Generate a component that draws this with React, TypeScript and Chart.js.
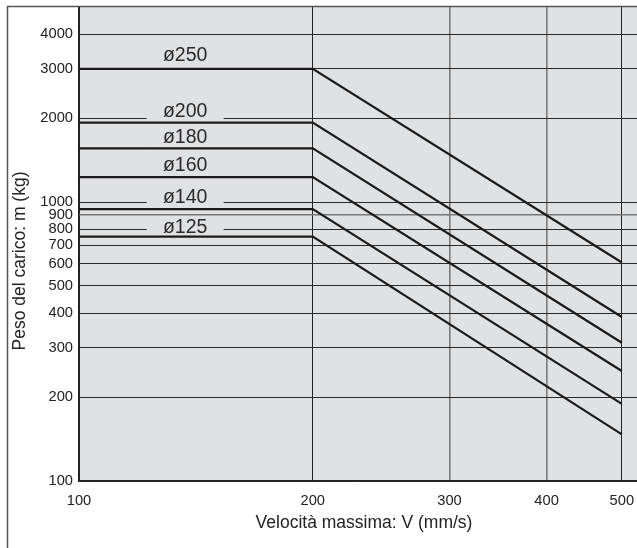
import React, { useEffect, useRef } from 'react';
import { Chart, registerables } from 'chart.js';
Chart.register(...registerables);

const velocities = [100, 200, 500];
const bores = ['ø250', 'ø200', 'ø180', 'ø160', 'ø140', 'ø125'];
const load250 = [3000, 3000, 607];
const load200 = [1925, 1925, 387];
const load180 = [1556, 1556, 313];
const load160 = [1228, 1228, 248];
const load140 = [943, 943, 189];
const load125 = [752, 752, 147];
const labelX = 137;
const labelY = [3370, 2130, 1718, 1359, 1046, 817];
const xTicks = [100, 200, 300, 400, 500];
const yTicks = [100, 200, 300, 400, 500, 600, 700, 800, 900, 1000, 2000, 3000, 4000];
const xTitle = 'Velocità massima: V (mm/s)';
const yTitle = 'Peso del carico: m (kg)';

const FONT = "'Liberation Sans', Arial, Helvetica, sans-serif";
const PLOT_BG = '#e0e1e3';

export default function App() {
  const ref = useRef<HTMLCanvasElement>(null);
  useEffect(() => {
    if (!ref.current) return;
    const series = [load250, load200, load180, load160, load140, load125];
    const decor = {
      id: 'decor',
      beforeDraw(chart: any) {
        const { ctx, chartArea: a } = chart;
        ctx.save();
        ctx.fillStyle = PLOT_BG;
        ctx.fillRect(a.left, a.top, a.right - a.left, a.bottom - a.top);
        ctx.restore();
      },
      beforeDatasetsDraw(chart: any) {
        const { ctx } = chart;
        const xs = chart.scales.x;
        const ys = chart.scales.y;
        ctx.save();
        ctx.font = `19.5px ${FONT}`;
        ctx.textAlign = 'center';
        ctx.textBaseline = 'middle';
        bores.forEach((b, i) => {
          const px = xs.getPixelForValue(labelX);
          const py = ys.getPixelForValue(labelY[i]);
          ctx.fillStyle = PLOT_BG;
          ctx.fillRect(px - 38.5, py - 9, 77, 18);
          ctx.fillStyle = '#2a2a2a';
          ctx.fillText(b, px, py + 1);
        });
        ctx.restore();
      },
      afterDraw(chart: any) {
        const { ctx } = chart;
        ctx.save();
        ctx.strokeStyle = '#555';
        ctx.lineWidth = 1.5;
        ctx.beginPath();
        ctx.moveTo(7.5, chart.height);
        ctx.lineTo(7.5, 6.5);
        ctx.lineTo(chart.width, 6.5);
        ctx.stroke();
        ctx.fillStyle = '#222';
        ctx.font = `17.5px ${FONT}`;
        ctx.textAlign = 'center';
        ctx.textBaseline = 'middle';
        ctx.fillText(xTitle, 364, 523);
        ctx.translate(20, 261);
        ctx.rotate(-Math.PI / 2);
        ctx.fillText(yTitle, 0, 0);
        ctx.restore();
      },
    };
    const chart = new Chart(ref.current, {
      type: 'line',
      data: {
        datasets: series.map((s, i) => ({
          label: bores[i],
          data: s.map((v, j) => ({ x: velocities[j], y: v })),
          borderColor: '#1a1a1a',
          borderWidth: 2.2,
          pointRadius: 0,
          fill: false,
          tension: 0,
        })),
      },
      options: {
        animation: false,
        responsive: false,
        devicePixelRatio: 1,
        layout: { padding: { top: 7, left: 0, right: 0, bottom: 0 } },
        plugins: { legend: { display: false }, tooltip: { enabled: false }, title: { display: false } },
        scales: {
          x: {
            type: 'logarithmic',
            min: 100,
            max: 523,
            afterBuildTicks: (s: any) => { s.ticks = xTicks.map((v) => ({ value: v })); },
            afterFit: (s: any) => { s.height = 67; s.paddingLeft = 0; s.paddingRight = 0; },
            ticks: {
              callback: (v: any) => String(v),
              autoSkip: false,
              maxRotation: 0,
              padding: 11,
              color: '#222',
              font: { family: FONT, size: 14.7 },
            },
            grid: {
              drawTicks: false,
              color: (c: any) => (c.tick && (c.tick.value === 300 || c.tick.value === 400) ? '#7a7a7a' : '#222'),
              lineWidth: (c: any) => (c.tick && (c.tick.value === 300 || c.tick.value === 400) ? 1.6 : 1),
            },
            border: { display: true, color: '#222', width: 1.2 },
          },
          y: {
            type: 'logarithmic',
            min: 100,
            max: 5000,
            afterBuildTicks: (s: any) => { s.ticks = yTicks.map((v) => ({ value: v })); },
            afterFit: (s: any) => { s.width = 79; s.paddingTop = 0; s.paddingBottom = 0; },
            ticks: {
              callback: (v: any) => String(v),
              autoSkip: false,
              padding: 6,
              color: '#222',
              font: { family: FONT, size: 14.7 },
            },
            grid: {
              drawTicks: false,
              color: (c: any) => (c.tick && c.tick.value === 900 ? '#777' : '#2a2a2a'),
              lineWidth: (c: any) => (c.tick && c.tick.value === 900 ? 1.5 : 1),
            },
            border: { display: true, color: '#222', width: 1.2 },
          },
        },
      },
      plugins: [decor],
    });
    return () => chart.destroy();
  }, []);
  return (
    <div style={{ position: 'fixed', left: 0, top: 0, width: 637, height: 548, background: '#fff' }}>
      <canvas ref={ref} width={637} height={548} style={{ display: 'block' }} />
    </div>
  );
}
